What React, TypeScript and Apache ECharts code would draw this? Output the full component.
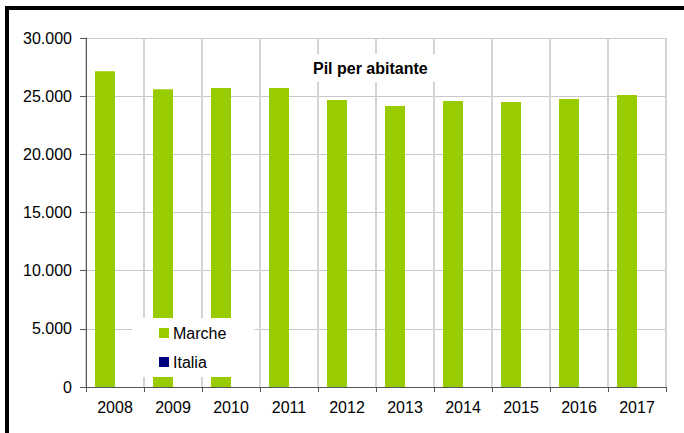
import React, { useEffect, useRef } from "react";
import * as echarts from "echarts";

const years = ["2008", "2009", "2010", "2011", "2012", "2013", "2014", "2015", "2016", "2017"];
const marche = [27150, 25600, 25700, 25700, 24670, 24150, 24580, 24500, 24760, 25100];
const italia: (number | null)[] = [null, null, null, null, null, null, null, null, null, null];
const seriesNames = ["Marche", "Italia"];
const chartTitle = "Pil per abitante";
const cornerNote = "Percentuali";

const FONT = "'Liberation Sans', Arial, sans-serif";

export default function App() {
  const ref = useRef<HTMLDivElement>(null);
  useEffect(() => {
    if (!ref.current) return;
    const chart = echarts.init(ref.current, undefined, { renderer: "svg" });
    chart.setOption({
      animation: false,
      backgroundColor: "#ffffff",
      textStyle: { fontFamily: FONT },
      title: {
        text: chartTitle,
        left: 305,
        top: 54,
        padding: [6, 8, 6, 8],
        backgroundColor: "#ffffff",
        textStyle: { fontFamily: FONT, fontSize: 16, fontWeight: "bold", color: "#000000" },
      },
      legend: {
        orient: "vertical",
        left: 132,
        top: 318,
        padding: [7, 28, 7, 27],
        itemGap: 13,
        itemWidth: 10,
        itemHeight: 10,
        icon: "rect",
        backgroundColor: "#ffffff",
        data: seriesNames,
        textStyle: { fontFamily: FONT, fontSize: 16, color: "#000000", padding: [0, 0, 0, -1] },
      },
      grid: { left: 86, top: 38, right: 18, bottom: 46, containLabel: false },
      xAxis: {
        type: "category",
        data: years,
        boundaryGap: true,
        axisLine: { show: true, lineStyle: { color: "#555555", width: 1 } },
        axisTick: { show: true, length: 5, lineStyle: { color: "#555555" } },
        axisLabel: { fontFamily: FONT, fontSize: 16, color: "#000000", margin: 12 },
        splitLine: { show: true, lineStyle: { color: "#d4d4d4", width: 2 } },
      },
      yAxis: {
        type: "value",
        min: 0,
        max: 30000,
        interval: 5000,
        axisLine: { show: true, lineStyle: { color: "#555555", width: 1 } },
        axisTick: { show: true, length: 6, lineStyle: { color: "#555555" } },
        axisLabel: {
          fontFamily: FONT,
          fontSize: 16,
          color: "#000000",
          margin: 14,
          formatter: (v: number) => v.toLocaleString("de-DE"),
        },
        splitLine: { show: true, lineStyle: { color: "#c8c8c8", width: 1 } },
      },
      series: [
        {
          name: seriesNames[0],
          type: "bar",
          data: marche,
          barWidth: 20,
          barGap: "0%",
          itemStyle: { color: "#99cc00" },
          z: 2,
        },
        {
          name: seriesNames[1],
          type: "bar",
          data: italia,
          barWidth: 20,
          barGap: "0%",
          itemStyle: { color: "#000080" },
          z: 2,
        },
      ],
      graphic: [
        {
          type: "text",
          left: 622,
          top: -11,
          style: { text: cornerNote, fontFamily: FONT, fontSize: 12, fill: "#000000" },
          z: 10,
        },
        {
          type: "rect",
          shape: { x: 5, y: 6, width: 679, height: 4 },
          style: { fill: "#000000" },
          z: 10,
        },
        {
          type: "rect",
          shape: { x: 5, y: 6, width: 4, height: 427 },
          style: { fill: "#000000" },
          z: 10,
        },
      ],
    });
    return () => chart.dispose();
  }, []);
  return (
    <div
      ref={ref}
      style={{ position: "absolute", left: 0, top: 0, width: 684, height: 433 }}
    />
  );
}
